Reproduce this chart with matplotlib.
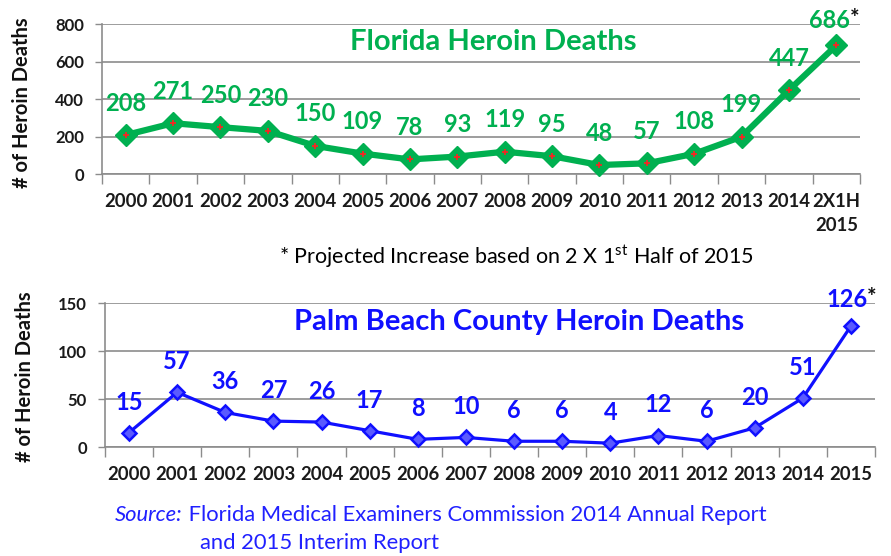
import numpy as np
import matplotlib
matplotlib.use("Agg")
import matplotlib.pyplot as plt

plt.rcParams['font.family'] = ['Lato', 'DejaVu Sans']
plt.rcParams['mathtext.fontset'] = 'custom'
plt.rcParams['mathtext.rm'] = 'Lato'

# Florida data
fl_years = ['2000', '2001', '2002', '2003', '2004', '2005', '2006', '2007',
            '2008', '2009', '2010', '2011', '2012', '2013', '2014', '2X1H\n2015']
fl_deaths = [208, 271, 250, 230, 150, 109, 78, 93, 119, 95, 48, 57, 108, 199, 447, 686]
fl_yticks = [0, 200, 400, 600, 800]

# Palm Beach data
pb_years = ['2000', '2001', '2002', '2003', '2004', '2005', '2006', '2007',
            '2008', '2009', '2010', '2011', '2012', '2013', '2014', '2015']
pb_deaths = [15, 57, 36, 27, 26, 17, 8, 10, 6, 6, 4, 12, 6, 20, 51, 126]
pb_yticks = [0, 50, 100, 150]

green = '#00B050'
blue = '#1010FF'
grid_c = '#8c8c8c'

fig = plt.figure(figsize=(8.91, 5.56), dpi=100)
ax1 = fig.add_axes([0.1145, 0.687, 0.8507, 0.2698])
ax2 = fig.add_axes([0.1178, 0.196, 0.8642, 0.259])


def style_axis(ax, labels, yticks):
    n = len(labels)
    ax.set_xlim(-0.5, n - 0.5)
    ax.set_ylim(yticks[0], yticks[-1])
    ax.set_yticks(yticks)
    ax.set_xticks(np.arange(n))
    ax.set_xticklabels(labels, fontsize=13.3, fontweight='bold', color='#1a1a1a',
                       linespacing=1.5)
    ax.set_xticks(np.arange(n + 1) - 0.5, minor=True)
    ax.tick_params(axis='x', which='major', length=0, pad=14)
    ax.tick_params(axis='x', which='minor', length=7, color=grid_c, width=1)
    ax.tick_params(axis='y', length=5, color=grid_c, width=1, pad=8,
                   labelsize=12, labelcolor='#1a1a1a')
    for lab in ax.get_yticklabels():
        lab.set_fontweight('bold')
    ax.grid(axis='y', color=grid_c, linewidth=1.2)
    ax.set_axisbelow(True)
    for s in ['top', 'right']:
        ax.spines[s].set_visible(False)
    for s in ['left', 'bottom']:
        ax.spines[s].set_color(grid_c)
        ax.spines[s].set_linewidth(1.2)


style_axis(ax1, fl_years, fl_yticks)
style_axis(ax2, pb_years, pb_yticks)

# Florida line
x1 = np.arange(len(fl_deaths))
ax1.plot(x1, fl_deaths, color=green, linewidth=4.5, marker='D', markersize=11,
         markerfacecolor=green, markeredgecolor=green, clip_on=False, zorder=3)
ax1.plot(x1, fl_deaths, linestyle='none', marker='+', markersize=5,
         markeredgecolor='#ff2020', markeredgewidth=1.2, clip_on=False, zorder=4)
for i, v in enumerate(fl_deaths):
    if i == len(fl_deaths) - 1:
        t = ax1.annotate(str(v), (x1[i], v), xytext=(-5, 18), textcoords='offset points',
                         ha='center', va='center', fontsize=17, fontweight='bold',
                         color=green, annotation_clip=False)
        ax1.annotate('*', xy=(1, 1), xycoords=t, xytext=(0, 1), textcoords='offset points',
                     ha='left', va='top', fontsize=16, fontweight='bold', color='#111111',
                     annotation_clip=False)
    else:
        ax1.annotate(str(v), (x1[i], v), xytext=(0, 23), textcoords='offset points',
                     ha='center', va='center', fontsize=17, fontweight='bold',
                     color=green)
ax1.text(0.516, 0.88, 'Florida Heroin Deaths', transform=ax1.transAxes,
         ha='center', va='center', fontsize=21, fontweight='bold', color=green)

# Palm Beach line
x2 = np.arange(len(pb_deaths))
ax2.plot(x2, pb_deaths, color=blue, linewidth=2.3, marker='D', markersize=7.5,
         markerfacecolor='#5a5aff', markeredgecolor=blue, markeredgewidth=1.8,
         clip_on=False, zorder=3)
for i, v in enumerate(pb_deaths):
    if i == len(pb_deaths) - 1:
        t = ax2.annotate(str(v), (x2[i], v), xytext=(-3, 19), textcoords='offset points',
                         ha='center', va='center', fontsize=17, fontweight='bold',
                         color=blue, annotation_clip=False)
        ax2.annotate('*', xy=(1, 1), xycoords=t, xytext=(0, 1), textcoords='offset points',
                     ha='left', va='top', fontsize=16, fontweight='bold', color='#111111',
                     annotation_clip=False)
    else:
        ax2.annotate(str(v), (x2[i], v), xytext=(0, 22), textcoords='offset points',
                     ha='center', va='center', fontsize=17, fontweight='bold',
                     color=blue)
ax2.text(0.538, 0.868, 'Palm Beach County Heroin Deaths', transform=ax2.transAxes,
         ha='center', va='center', fontsize=21, fontweight='bold', color=blue)

# y labels
fig.text(22 / 891, 1 - 103 / 556, '# of Heroin Deaths', rotation=90, ha='center',
         va='center', fontsize=14.5, fontweight='bold', color='#111111')
fig.text(25 / 891, 1 - 377 / 556, '# of Heroin Deaths', rotation=90, ha='center',
         va='center', fontsize=14.5, fontweight='bold', color='#111111')

# footnote
fig.text(516 / 891, 1 - 257 / 556,
         '* Projected Increase based on 2 X 1$^{\\mathrm{st}}$ Half of 2015',
         ha='center', va='center', fontsize=15.5, color='#000000')

# source
src = fig.text(115 / 891, 1 - 515 / 556, 'Source:', ha='left', va='center',
               fontsize=15.8, style='italic', color='#2020ff')
plt.annotate(' Florida Medical Examiners Commission 2014 Annual Report',
             xy=(1, 0.5), xycoords=src, ha='left', va='center', fontsize=15.8,
             color='#2020ff')
fig.text(200 / 891, 1 - 543 / 556, 'and 2015 Interim Report', ha='left', va='center',
         fontsize=15.8, color='#2020ff')

fig.savefig('out.png', dpi=100)
